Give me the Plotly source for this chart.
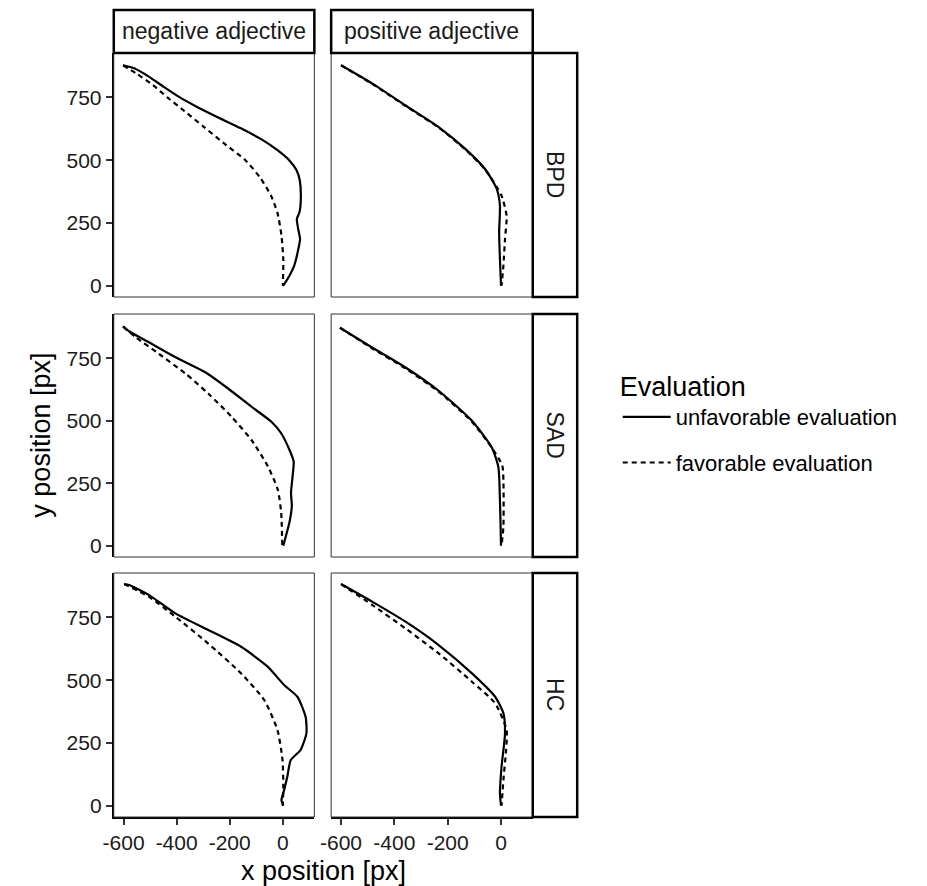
import plotly.graph_objects as go

# ---- data ----
adjectives = ["negative adjective", "positive adjective"]
groups = ["BPD", "SAD", "HC"]
evaluations = ["unfavorable evaluation", "favorable evaluation"]
x_ticks = [-600, -400, -200, 0]
y_ticks = [0, 250, 500, 750]

# BPD, negative adjective
bpd_neg_unfav_x = [-602, -560, -505, -450, -391, -330, -255, -160, -80, -20, 25, 52, 64, 68, 63, 53, 58, 65, 56, 43, 25, 6, 1]
bpd_neg_unfav_y = [878, 866, 833, 793, 752, 716, 676, 628, 583, 540, 499, 460, 420, 346, 293, 266, 226, 186, 133, 80, 40, 7, 0]
bpd_neg_fav_x = [-602, -553, -490, -435, -370, -300, -225, -140, -85, -45, -20, -5, 2, 0]
bpd_neg_fav_y = [878, 846, 800, 750, 695, 635, 570, 499, 430, 360, 290, 200, 100, 0]
# BPD, positive adjective
bpd_pos_unfav_x = [-600, -482, -358, -234, -134, -60, -16, -4, -7, -4, 0]
bpd_pos_unfav_y = [878, 805, 718, 632, 545, 465, 386, 319, 213, 106, 0]
bpd_pos_fav_x = [-600, -482, -358, -234, -134, -60, -14, 2, 21, 15, 9, 2]
bpd_pos_fav_y = [878, 803, 716, 630, 543, 463, 390, 359, 279, 186, 80, 0]
# SAD, negative adjective
sad_neg_unfav_x = [-602, -578, -503, -404, -292, -205, -118, -43, -6, 25, 41, 37, 31, 34, 25, 12, 2]
sad_neg_unfav_y = [878, 857, 813, 754, 694, 628, 556, 496, 450, 384, 337, 278, 212, 159, 93, 40, 0]
sad_neg_fav_x = [-602, -553, -466, -366, -280, -193, -118, -56, -19, -6, -2]
sad_neg_fav_y = [876, 833, 767, 688, 608, 516, 423, 317, 225, 132, 0]
# SAD, positive adjective
sad_pos_unfav_x = [-604, -482, -358, -234, -109, -35, -10, -4, 0]
sad_pos_unfav_y = [872, 792, 713, 620, 500, 394, 315, 182, 0]
sad_pos_fav_x = [-604, -482, -358, -234, -109, -33, 5, 9, 9, 2]
sad_pos_fav_y = [872, 789, 709, 616, 496, 390, 320, 261, 76, 0]
# HC, negative adjective
hc_neg_unfav_x = [-598, -579, -504, -405, -281, -157, -57, 5, 55, 86, 89, 67, 30, 17, 5, -5, 2]
hc_neg_unfav_y = [883, 879, 839, 766, 700, 633, 554, 481, 434, 354, 288, 222, 182, 115, 62, 23, 0]
hc_neg_fav_x = [-598, -504, -405, -281, -157, -70, -20, -1, 2, 0]
hc_neg_fav_y = [883, 832, 753, 646, 527, 421, 301, 182, 76, 0]
# HC, positive adjective
hc_pos_unfav_x = [-600, -482, -358, -234, -109, -22, 9, 15, 2, -4, 0]
hc_pos_unfav_y = [883, 812, 733, 640, 527, 434, 368, 288, 155, 49, 0]
hc_pos_fav_x = [-600, -482, -358, -234, -109, -22, 21, 19, 9, 2]
hc_pos_fav_y = [883, 799, 706, 607, 494, 408, 301, 222, 102, 0]

series = {
    ("BPD", 0): [(bpd_neg_unfav_x, bpd_neg_unfav_y), (bpd_neg_fav_x, bpd_neg_fav_y)],
    ("BPD", 1): [(bpd_pos_unfav_x, bpd_pos_unfav_y), (bpd_pos_fav_x, bpd_pos_fav_y)],
    ("SAD", 0): [(sad_neg_unfav_x, sad_neg_unfav_y), (sad_neg_fav_x, sad_neg_fav_y)],
    ("SAD", 1): [(sad_pos_unfav_x, sad_pos_unfav_y), (sad_pos_fav_x, sad_pos_fav_y)],
    ("HC", 0): [(hc_neg_unfav_x, hc_neg_unfav_y), (hc_neg_fav_x, hc_neg_fav_y)],
    ("HC", 1): [(hc_pos_unfav_x, hc_pos_unfav_y), (hc_pos_fav_x, hc_pos_fav_y)],
}

# ---- layout geometry (page pixels; body margin removed) ----
W, H = 927, 886
col_px = [(104, 307), (324, 528)]
row_px = [(53, 297), (314, 557), (573, 817)]
strip_right = (528, 573)
strip_top = (10, 53)


def px_x(p):
    return p / W


def px_y(p):
    return 1 - p / H


FONT = "Liberation Sans, Arial, sans-serif"
dashes = ["solid", "5px,4px"]

fig = go.Figure()
layout = dict(
    width=W, height=H, margin=dict(l=0, r=0, t=0, b=0),
    plot_bgcolor="white", paper_bgcolor="white",
    font=dict(family=FONT, color="black"),
    showlegend=True,
)

XR = [-637, 119]
YR = [-45, 927]
shapes = []
annotations = []
idx = 0
for r, g in enumerate(groups):
    for c in range(2):
        idx += 1
        xa = "xaxis" if idx == 1 else f"xaxis{idx}"
        ya = "yaxis" if idx == 1 else f"yaxis{idx}"
        xref = "x" if idx == 1 else f"x{idx}"
        yref = "y" if idx == 1 else f"y{idx}"
        bottom = r == len(groups) - 1
        left = c == 0
        layout[xa] = dict(
            domain=[px_x(col_px[c][0]), px_x(col_px[c][1])], anchor=yref,
            range=XR, showgrid=False, zeroline=False,
            showline=bottom, linecolor="black", linewidth=2,
            tickvals=x_ticks if bottom else [],
            ticktext=[str(v) for v in x_ticks] if bottom else [],
            ticks="outside" if bottom else "",
            ticklen=6, tickwidth=1.5, tickcolor="#333333",
            showticklabels=bottom, tickfont=dict(size=21, color="#1a1a1a", family=FONT),
        )
        layout[ya] = dict(
            domain=[px_y(row_px[r][1]), px_y(row_px[r][0])], anchor=xref,
            range=YR, showgrid=False, zeroline=False,
            showline=left, linecolor="black", linewidth=2,
            tickvals=y_ticks if left else [],
            ticktext=[str(v) for v in y_ticks] if left else [],
            ticks="outside" if left else "",
            ticklen=6, tickwidth=1.5, tickcolor="#333333",
            showticklabels=left, tickfont=dict(size=21, color="#1a1a1a", family=FONT),
        )
        # thin panel border
        shapes.append(dict(type="rect", xref="paper", yref="paper",
                           x0=px_x(col_px[c][0]), x1=px_x(col_px[c][1]),
                           y0=px_y(row_px[r][1]), y1=px_y(row_px[r][0]),
                           line=dict(color="#333333", width=1), layer="above"))
        for e, (xs, ys) in enumerate(series[(g, c)]):
            fig.add_trace(go.Scatter(
                x=xs, y=ys, mode="lines", xaxis=xref, yaxis=yref,
                line=dict(color="black", width=2.2, dash=dashes[e], shape="spline", smoothing=0.6),
                name=evaluations[e], legendgroup=evaluations[e],
                showlegend=(idx == 1),
            ))

# top strips
for c, lab in enumerate(adjectives):
    shapes.append(dict(type="rect", xref="paper", yref="paper",
                       x0=px_x(col_px[c][0]), x1=px_x(col_px[c][1]),
                       y0=px_y(strip_top[1]), y1=px_y(strip_top[0]),
                       line=dict(color="black", width=2.5), fillcolor="white"))
    annotations.append(dict(text=lab, xref="paper", yref="paper",
                            x=px_x((col_px[c][0] + col_px[c][1]) / 2),
                            y=px_y((strip_top[0] + strip_top[1]) / 2),
                            showarrow=False, font=dict(size=23, color="#1a1a1a", family=FONT),
                            xanchor="center", yanchor="middle"))
# right strips
for r, g in enumerate(groups):
    shapes.append(dict(type="rect", xref="paper", yref="paper",
                       x0=px_x(strip_right[0]), x1=px_x(strip_right[1]),
                       y0=px_y(row_px[r][1]), y1=px_y(row_px[r][0]),
                       line=dict(color="black", width=2.5), fillcolor="white"))
    annotations.append(dict(text=g, xref="paper", yref="paper",
                            x=px_x((strip_right[0] + strip_right[1]) / 2),
                            y=px_y((row_px[r][0] + row_px[r][1]) / 2),
                            showarrow=False, textangle=90,
                            font=dict(size=23, color="#1a1a1a", family=FONT),
                            xanchor="center", yanchor="middle"))
# axis titles
annotations.append(dict(text="x position [px]", xref="paper", yref="paper",
                        x=px_x(316), y=px_y(871), showarrow=False,
                        font=dict(size=27, color="black", family=FONT),
                        xanchor="center", yanchor="middle"))
annotations.append(dict(text="y position [px]", xref="paper", yref="paper",
                        x=px_x(30), y=px_y(435), showarrow=False, textangle=-90,
                        font=dict(size=27, color="black", family=FONT),
                        xanchor="center", yanchor="middle"))

layout["shapes"] = shapes
layout["annotations"] = annotations
layout["legend"] = dict(
    x=px_x(614), y=px_y(361), xanchor="left", yanchor="top",
    title=dict(text="Evaluation", font=dict(size=27, family=FONT, color="black")),
    font=dict(size=22, family=FONT, color="black"),
    tracegroupgap=14, itemwidth=48, bgcolor="rgba(0,0,0,0)",
)
fig.update_layout(**layout)
fig.write_html(
    "out.html",
    config={"displayModeBar": False},
    post_script="document.body.style.margin='0';document.body.style.overflow='hidden';",
)
